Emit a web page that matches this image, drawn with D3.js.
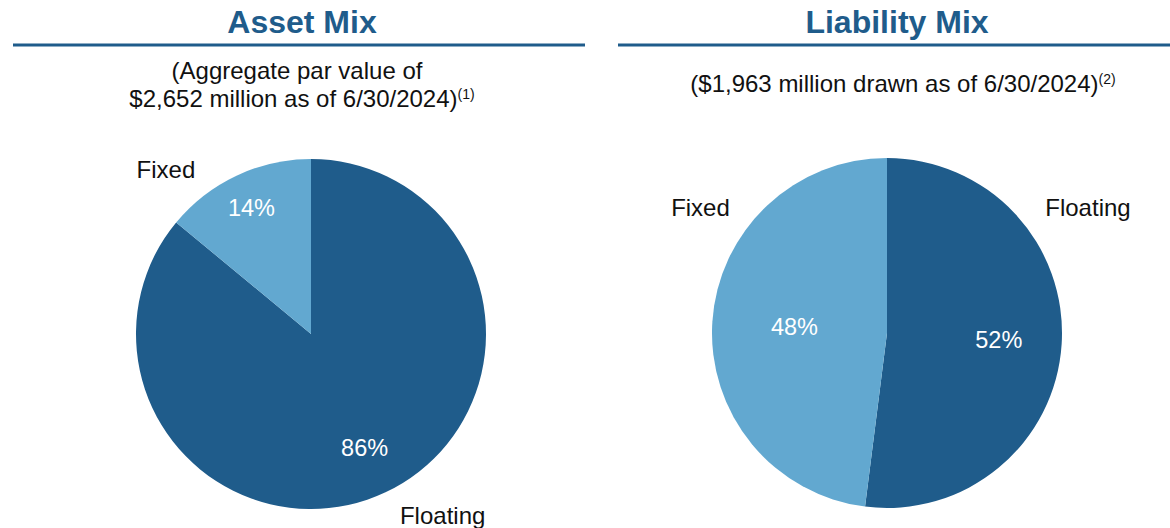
<!DOCTYPE html>
<html><head><meta charset="utf-8">
<script src="https://cdn.jsdelivr.net/npm/d3@7"></script>
<style>body{margin:0;background:#fff}svg{display:block}text{font-family:"Liberation Sans",Arial,sans-serif}</style>
</head><body><svg id="c" width="1170" height="528"></svg>
<script>
const categories = ["Floating", "Fixed"];
const assetValues = [86, 14];
const liabilityValues = [52, 48];
const titles = ["Asset Mix", "Liability Mix"];
const assetSubtitle = ["(Aggregate par value of", "$2,652 million as of 6/30/2024)"];
const liabilitySubtitle = ["($1,963 million drawn as of 6/30/2024)"];
const footnotes = ["(1)", "(2)"];

const DARK = "#1f5c8b", LIGHT = "#62a8d0";
const color = d3.scaleOrdinal().domain(categories).range([DARK, LIGHT]);
const svg = d3.select("#c");
const R = 175;

const panels = [
  {title: titles[0], values: assetValues, sub: assetSubtitle, fn: footnotes[0], cx: 311, cy: 334, tx: 302, lx1: 13, lx2: 585,
   pctR: [0.72, 0.8], outer: [{a: 144, r: 224}, {a: -41.5, r: 219}]},
  {title: titles[1], values: liabilityValues, sub: liabilitySubtitle, fn: footnotes[1], cx: 887, cy: 333, tx: 897, lx1: 618, lx2: 1170,
   pctR: [0.64, 0.53], outer: [{a: 58, r: 237}, {a: -56, r: 225}]}
];

const pie = d3.pie().sort(null).startAngle(0);
panels.forEach(p => {
  svg.append("text").attr("x", p.tx).attr("y", 33).attr("text-anchor", "middle")
    .attr("font-size", 32).attr("font-weight", "bold").attr("fill", DARK).text(p.title);
  svg.append("line").attr("x1", p.lx1).attr("x2", p.lx2).attr("y1", 45).attr("y2", 45)
    .attr("stroke", DARK).attr("stroke-width", 3);
  if (p.sub.length === 2) {
    svg.append("text").attr("x", 297).attr("y", 79).attr("text-anchor", "middle").attr("font-size", 24).attr("fill", "#111").text(p.sub[0]);
    const t = svg.append("text").attr("x", 302).attr("y", 107).attr("text-anchor", "middle").attr("font-size", 24).attr("fill", "#111");
    t.append("tspan").text(p.sub[1]);
    t.append("tspan").attr("font-size", 14).attr("dy", -8).text(p.fn);
  } else {
    const t = svg.append("text").attr("x", 903).attr("y", 92).attr("text-anchor", "middle").attr("font-size", 24).attr("fill", "#111");
    t.append("tspan").text(p.sub[0]);
    t.append("tspan").attr("font-size", 14).attr("dy", -8).text(p.fn);
  }
  const g = svg.append("g").attr("transform", `translate(${p.cx},${p.cy})`);
  const arcs = pie(p.values);
  const arc = d3.arc().innerRadius(0).outerRadius(R);
  g.selectAll("path").data(arcs).join("path").attr("d", arc)
    .attr("fill", (d, i) => color(categories[i]));
  arcs.forEach((d, i) => {
    const mid = (d.startAngle + d.endAngle) / 2;
    const r = R * p.pctR[i];
    g.append("text").attr("x", r * Math.sin(mid)).attr("y", -r * Math.cos(mid)).attr("dy", "0.35em")
      .attr("text-anchor", "middle").attr("font-size", 23.5).attr("fill", "#fff").text(d.data + "%");
    const o = p.outer[i], a = o.a * Math.PI / 180;
    g.append("text").attr("x", o.r * Math.sin(a)).attr("y", -o.r * Math.cos(a)).attr("dy", "0.35em")
      .attr("text-anchor", "middle").attr("font-size", 24).attr("fill", "#111").text(categories[i]);
  });
});
</script></body></html>
